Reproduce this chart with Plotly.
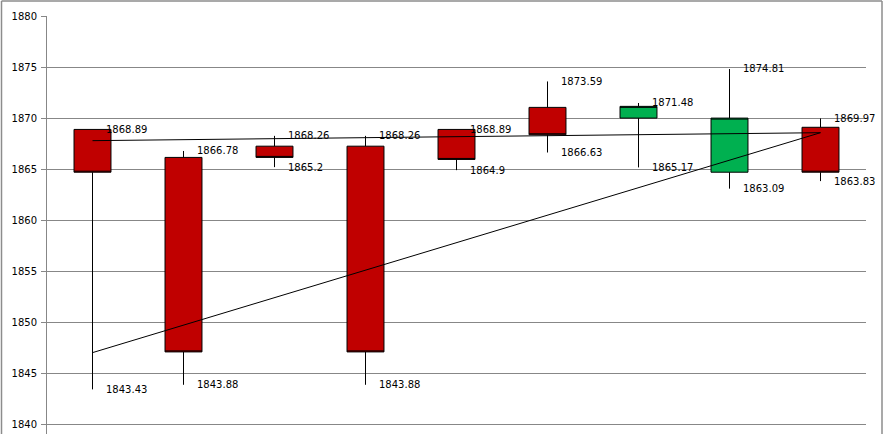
import plotly.graph_objects as go

categories = [1, 2, 3, 4, 5, 6, 7, 8, 9]
open_vals = [1868.89, 1866.15, 1867.25, 1867.25, 1868.89, 1871.05, 1870.00, 1864.70, 1869.10]
high_vals = [1868.89, 1866.78, 1868.26, 1868.26, 1868.89, 1873.59, 1871.48, 1874.81, 1869.97]
low_vals = [1843.43, 1843.88, 1865.20, 1843.88, 1864.90, 1866.63, 1865.17, 1863.09, 1863.83]
close_vals = [1864.70, 1847.10, 1866.15, 1847.10, 1865.95, 1868.37, 1871.15, 1870.00, 1864.70]
high_labels = ["1868.89", "1866.78", "1868.26", "1868.26", "1868.89", "1873.59", "1871.48", "1874.81", "1869.97"]
low_labels = ["1843.43", "1843.88", "1865.2", "1843.88", "1864.9", "1866.63", "1865.17", "1863.09", "1863.83"]

trend_x = [1, 9]
trend_a = [1867.79, 1868.57]
trend_b = [1847.03, 1868.57]

y_range = [1839.06, 1880]
y_ticks = [1840, 1845, 1850, 1855, 1860, 1865, 1870, 1875, 1880]

FONT = "DejaVu Sans"
GRID = "#878787"

fig = go.Figure()
fig.add_trace(go.Candlestick(
    x=categories, open=open_vals, high=high_vals, low=low_vals, close=close_vals,
    increasing=dict(fillcolor="#00B050", line=dict(color="black", width=1)),
    decreasing=dict(fillcolor="#C00000", line=dict(color="black", width=1)),
    whiskerwidth=0, showlegend=False, hoverinfo="skip",
))
fig.add_trace(go.Scatter(x=trend_x, y=trend_a, mode="lines",
                         line=dict(color="black", width=1), showlegend=False, hoverinfo="skip"))
fig.add_trace(go.Scatter(x=trend_x, y=trend_b, mode="lines",
                         line=dict(color="black", width=1), showlegend=False, hoverinfo="skip"))

annotations = []
for c, h, hl, l, ll in zip(categories, high_vals, high_labels, low_vals, low_labels):
    for v, t in ((h, hl), (l, ll)):
        annotations.append(dict(x=c, y=v, xref="x", yref="y", text=t, showarrow=False,
                                xanchor="left", yanchor="middle", xshift=11,
                                font=dict(family=FONT, size=10, color="black")))

L, R, T, B = 47, 19, 16, 0
W, H = 885, 434
pw = W - L - R
ph = H - T - B

def px_x(px):
    return (px - L) / pw

def px_y(py):
    return (H - B - py) / ph

shapes = [
    dict(type="line", xref="paper", yref="paper", x0=px_x(1.5), x1=px_x(882), y0=px_y(1), y1=px_y(1),
         line=dict(color="#8c8c8c", width=1.5)),
    dict(type="line", xref="paper", yref="paper", x0=px_x(1.5), x1=px_x(1.5), y0=px_y(1), y1=px_y(440),
         line=dict(color="#8c8c8c", width=1.5)),
    dict(type="line", xref="paper", yref="paper", x0=px_x(882), x1=px_x(882), y0=px_y(1), y1=px_y(440),
         line=dict(color="#8c8c8c", width=1.5)),
]

fig.update_layout(
    template="none",
    width=W, height=H,
    margin=dict(l=L, r=R, t=T, b=B, pad=0),
    paper_bgcolor="white", plot_bgcolor="white",
    boxgap=0.594, boxgroupgap=0,
    annotations=annotations, shapes=shapes,
    font=dict(family=FONT, size=10, color="black"),
    xaxis=dict(type="linear", range=[0.5, 9.5], showgrid=False, showticklabels=False,
               ticks="", showline=False, zeroline=False, automargin=False,
               rangeslider=dict(visible=False)),
    yaxis=dict(range=y_range, tickvals=y_ticks, ticktext=[str(t) for t in y_ticks],
               showgrid=True, gridcolor=GRID, gridwidth=1, automargin=False,
               showline=True, linecolor=GRID, linewidth=1,
               ticks="outside", ticklen=5, tickcolor=GRID, ticklabelstandoff=2,
               tickfont=dict(family=FONT, size=10, color="black"), zeroline=False),
)

fig.write_html("out.html", config={"displayModeBar": False},
               post_script="document.body.style.margin='0';document.body.style.padding='0';")
